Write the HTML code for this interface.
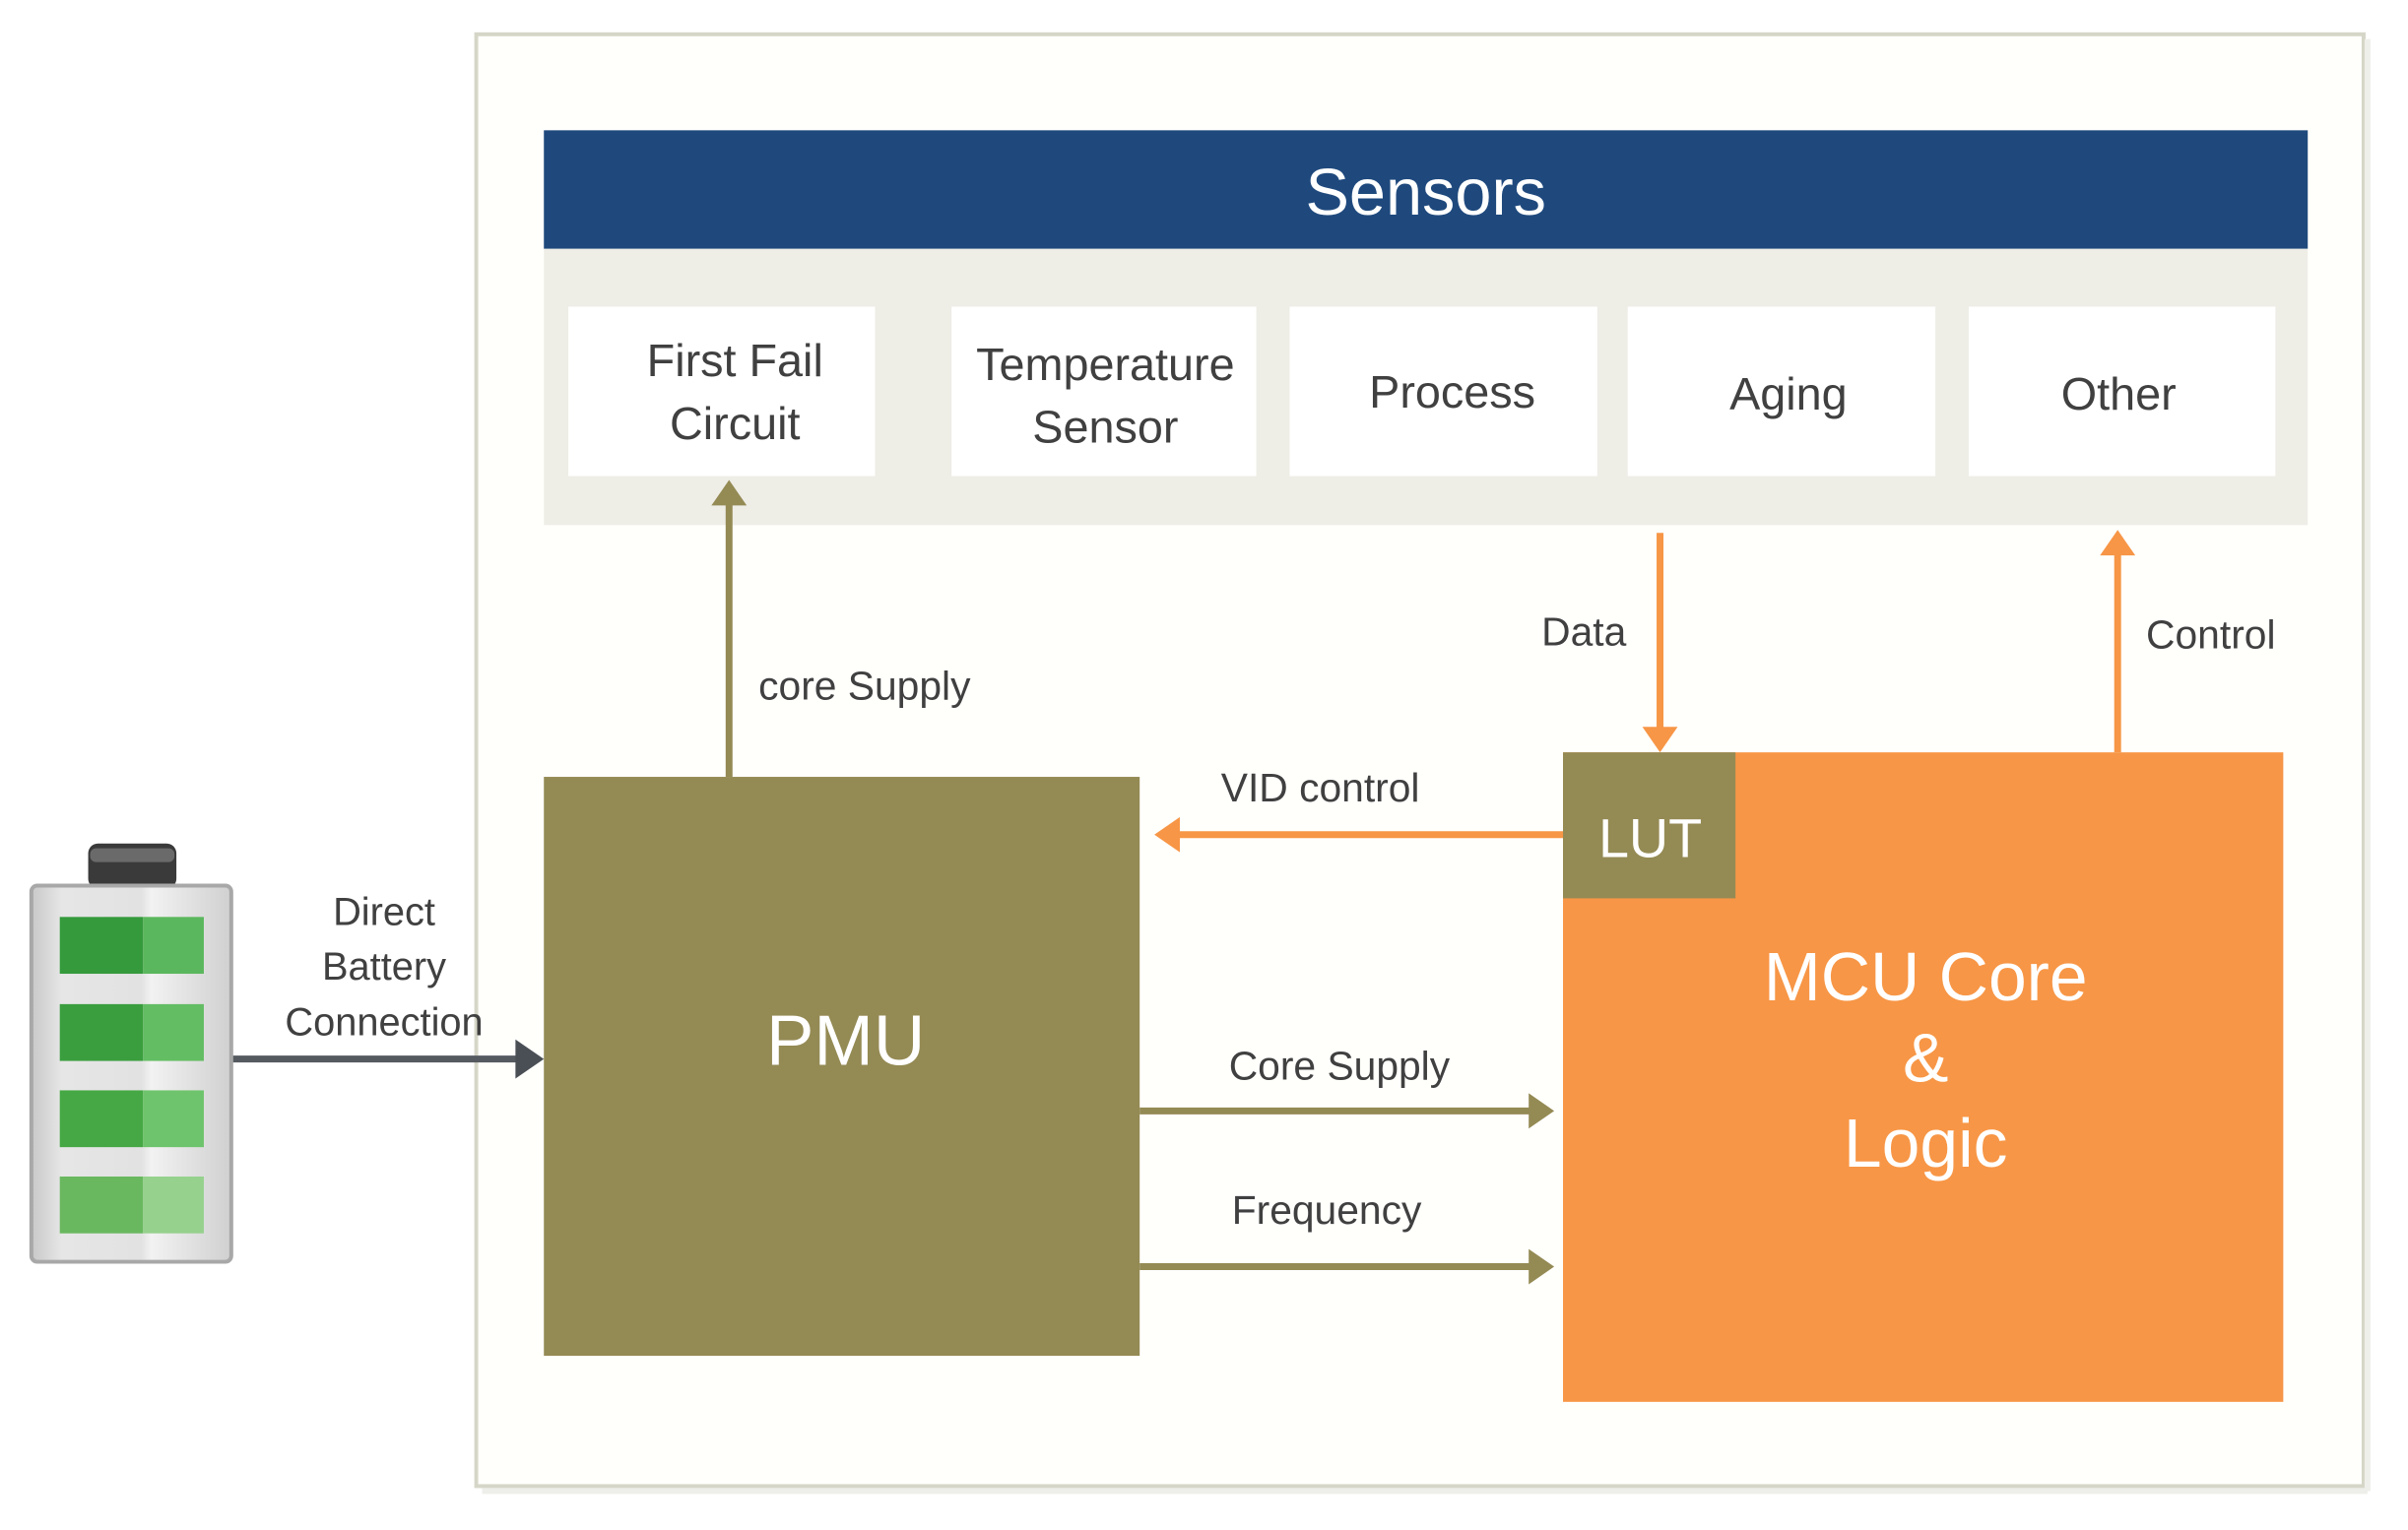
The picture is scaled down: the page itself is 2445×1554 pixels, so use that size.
<!DOCTYPE html>
<html><head><meta charset="utf-8"><style>
html,body{margin:0;padding:0;background:#fff}
svg{display:block}
text{font-family:"Liberation Sans",sans-serif}
</style></head><body>
<svg width="2445" height="1554" viewBox="0 0 2445 1554" xmlns="http://www.w3.org/2000/svg">
<defs>
<linearGradient id="bat" x1="0" x2="1"><stop offset="0" stop-color="#c8c8c8"/><stop offset="0.15" stop-color="#e6e6e6"/><stop offset="0.55" stop-color="#e2e2e2"/><stop offset="0.6" stop-color="#f2f2f2"/><stop offset="1" stop-color="#d0d0d0"/></linearGradient>
</defs>
<rect x="0" y="0" width="2445" height="1554" fill="#fff"/>
<g transform="scale(0.995)">
<rect x="486" y="35" width="1926" height="1482" fill="#fffffc" stroke="#d6d6c8" stroke-width="4"/>
<line x1="2416" y1="40" x2="2416" y2="1522" stroke="#eeeeea" stroke-width="6"/>
<line x1="492" y1="1522" x2="2416" y2="1522" stroke="#eeeeea" stroke-width="6"/>
<rect x="555" y="133" width="1800" height="121" fill="#1f497d"/>
<text x="1455" y="219" font-size="67" fill="#fff" text-anchor="middle">Sensors</text>
<rect x="555" y="254" width="1800" height="282" fill="#eeede6"/>
<g fill="#fff">
<rect x="580" y="313" width="313" height="173"/>
<rect x="971" y="313" width="311" height="173"/>
<rect x="1316" y="313" width="314" height="173"/>
<rect x="1661" y="313" width="314" height="173"/>
<rect x="2009" y="313" width="313" height="173"/>
</g>
<g font-size="47" fill="#404040" text-anchor="middle">
<text x="750" y="384">First Fail</text><text x="750" y="448">Circuit</text>
<text x="1128" y="388">Temperature</text><text x="1128" y="452">Sensor</text>
<text x="1482" y="416">Process</text>
<text x="1825" y="418">Aging</text>
<text x="2162" y="418">Other</text>
</g>
<rect x="555" y="793" width="608" height="591" fill="#948a54"/>
<text x="863" y="1087" font-size="73" fill="#fff" text-anchor="middle">PMU</text>
<rect x="1595" y="768" width="735" height="663" fill="#f79646"/>
<rect x="1595" y="768" width="176" height="149" fill="#948a54"/>
<text x="1684" y="875" font-size="56" fill="#fff" text-anchor="middle">LUT</text>
<g font-size="70" fill="#fff" text-anchor="middle">
<text x="1965" y="1021">MCU Core</text>
<text x="1965" y="1104">&amp;</text>
<text x="1965" y="1191">Logic</text>
</g>
<g stroke-width="7" fill="none">
<line x1="744" y1="793" x2="744" y2="510" stroke="#948a54"/>
<line x1="1694" y1="544" x2="1694" y2="745" stroke="#f79646"/>
<line x1="2161" y1="768" x2="2161" y2="562" stroke="#f79646"/>
<line x1="1595" y1="852" x2="1198" y2="852" stroke="#f79646"/>
<line x1="1163" y1="1134" x2="1566" y2="1134" stroke="#948a54"/>
<line x1="1163" y1="1293" x2="1566" y2="1293" stroke="#948a54"/>
<line x1="237" y1="1081" x2="530" y2="1081" stroke="#555a60"/>
</g>
<polygon points="744,490 726,516 762,516" fill="#948a54"/>
<polygon points="1694,768 1676,742 1712,742" fill="#f79646"/>
<polygon points="2161,541 2143,567 2179,567" fill="#f79646"/>
<polygon points="1178,852 1204,834 1204,870" fill="#f79646"/>
<polygon points="1586,1134 1560,1116 1560,1152" fill="#948a54"/>
<polygon points="1586,1293 1560,1275 1560,1311" fill="#948a54"/>
<polygon points="555,1081 526,1061 526,1101" fill="#4a4f55"/>
<g font-size="41" fill="#404040">
<text x="774" y="714">core Supply</text>
<text x="1573" y="659">Data</text>
<text x="2190" y="662">Control</text>
<text x="1246" y="818">VID control</text>
<text x="1254" y="1102">Core Supply</text>
<text x="1257" y="1249">Frequency</text>
</g>
<g font-size="40" fill="#404040" text-anchor="middle">
<text x="392" y="944">Direct</text>
<text x="392" y="1000">Battery</text>
<text x="392" y="1057">Connection</text>
</g>
<rect x="90" y="861" width="90" height="46" rx="10" fill="#3a3a3a"/>
<rect x="92" y="866" width="86" height="14" rx="6" fill="#6a6a6a"/>
<rect x="32" y="904" width="204" height="384" rx="6" fill="url(#bat)" stroke="#a8a8a8" stroke-width="4"/>
<rect x="61" y="936" width="85" height="58" fill="#359a3c"/><rect x="146" y="936" width="62" height="58" fill="#5bb75d"/>
<rect x="61" y="1025" width="85" height="58" fill="#3a9e3e"/><rect x="146" y="1025" width="62" height="58" fill="#63bd63"/>
<rect x="61" y="1113" width="85" height="58" fill="#46a844"/><rect x="146" y="1113" width="62" height="58" fill="#6ec46c"/>
<rect x="61" y="1201" width="85" height="58" fill="#69b85f"/><rect x="146" y="1201" width="62" height="58" fill="#96d18d"/>
</g>
</svg>
</body></html>
